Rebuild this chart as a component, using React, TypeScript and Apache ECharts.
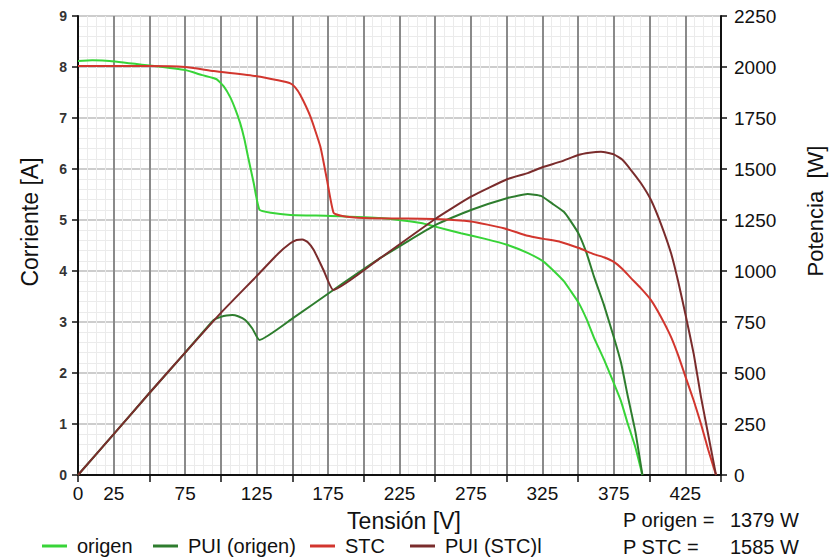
import React, { useEffect, useRef } from "react";
import * as echarts from "echarts";

// ---- data ----
const origenV = [0, 10, 22, 50, 75, 87, 97, 102, 106.5, 110, 113.5, 116.5, 119, 123, 127, 135, 148.6, 176.6, 211.7, 240, 250, 268, 285, 300.7, 315, 326, 333, 340, 345, 350.5, 356, 361, 368, 375, 380, 384.6, 390, 395];
const origenI = [8.12, 8.13, 8.12, 8.03, 7.94, 7.84, 7.76, 7.62, 7.41, 7.18, 6.9, 6.58, 6.24, 5.72, 5.2, 5.14, 5.1, 5.08, 5.04, 4.94, 4.87, 4.74, 4.63, 4.51, 4.35, 4.18, 4.0, 3.8, 3.6, 3.37, 3.05, 2.7, 2.27, 1.8, 1.45, 1.02, 0.55, 0];

const stcV = [0, 50, 75, 95, 125, 140, 148.6, 152, 155.6, 162.6, 169.6, 174.3, 178.9, 185, 200, 225, 250, 275, 298, 314.7, 326, 337.8, 350.5, 361, 368, 375, 381, 387, 394, 401, 408, 415, 420, 425.5, 431, 436, 441, 446.5];
const stcI = [8.02, 8.02, 8.0, 7.92, 7.82, 7.74, 7.68, 7.6, 7.45, 7.03, 6.44, 5.78, 5.14, 5.08, 5.04, 5.03, 5.02, 4.97, 4.84, 4.69, 4.63, 4.57, 4.45, 4.33, 4.27, 4.18, 4.04, 3.86, 3.66, 3.43, 3.1, 2.71, 2.35, 1.9, 1.45, 1.0, 0.5, 0];

const puiOrigenV = [0, 25, 50, 75, 95, 100, 104, 108, 112, 117, 122, 127, 150.7, 178.7, 211.7, 250, 275, 300.7, 314.7, 324, 332, 340, 345, 350.5, 356, 361, 368, 375, 380, 384.6, 390, 395];
const puiOrigenP = [0, 200, 402, 600, 760, 775, 782, 784, 778, 760, 718, 662, 770, 907, 1064, 1225, 1299, 1358, 1377, 1368, 1330, 1290, 1242, 1181, 1086, 975, 835, 675, 551, 392, 215, 0];

const puiStcV = [0, 25, 50, 75, 100, 125, 140, 148.6, 153, 157, 161, 165, 171.8, 178.7, 211.7, 250, 275, 300.7, 314.7, 326, 337.8, 350, 358, 366, 375, 381, 387, 394, 401, 408, 415, 420, 425.5, 431, 436, 441, 446.5];
const puiStcP = [0, 200, 402, 600, 795, 975, 1085, 1136, 1152, 1155, 1140, 1103, 1005, 907, 1064, 1255, 1364, 1451, 1480, 1511, 1536, 1569, 1580, 1585, 1572, 1545, 1495, 1430, 1348, 1230, 1088, 950, 775, 590, 382, 200, 0];

const seriesNames = ["origen", "PUI (origen)", "STC", "PUI (STC)l"];
const seriesColors = ["#38d438", "#2e7d2e", "#d2362e", "#7a2c2c"];
const xLabelValues = [0, 25, 75, 125, 175, 225, 275, 325, 375, 425];
const summaryLabels = ["P origen =", "P STC ="];
const summaryValues = ["1379 W", "1585 W"];

const FONT = "'Liberation Sans', Arial, sans-serif";

function pairs(xs: number[], ys: number[]) {
  return xs.map((x, i) => [x, ys[i]]);
}

export default function App() {
  const ref = useRef<HTMLDivElement>(null);
  useEffect(() => {
    if (!ref.current) return;
    const chart = echarts.init(ref.current, null, { renderer: "svg" });
    const legendLefts = [42, 153, 310, 410];
    const option: any = {
      animation: false,
      backgroundColor: "#ffffff",
      grid: { left: 78, right: 108, top: 16, bottom: 85, containLabel: false },
      legend: seriesNames.map((n, i) => ({
        data: [n],
        left: legendLefts[i],
        top: 536,
        padding: 0,
        icon: "rect",
        itemWidth: 25,
        itemHeight: 3,
        textStyle: { fontSize: 20, fontFamily: FONT, color: "#111", padding: [0, 0, 0, 5] },
      })),
      xAxis: [
        {
          type: "value",
          min: 0,
          max: 450,
          interval: 25,
          position: "bottom",
          axisLine: { show: true, onZero: false, lineStyle: { color: "#111", width: 2 } },
          axisTick: { show: false },
          axisLabel: {
            fontSize: 19,
            fontFamily: FONT,
            color: "#111",
            margin: 9,
            formatter: (v: number) => (xLabelValues.indexOf(v) >= 0 ? String(v) : ""),
          },
          splitLine: { show: true, lineStyle: { color: "#8a8a8a", width: 2 } },
          minorTick: { show: false, splitNumber: 4 },
          minorSplitLine: { show: true, lineStyle: { color: "#ebebeb", width: 1 } },
        },
        {
          type: "value",
          min: 0,
          max: 450,
          interval: 50,
          position: "bottom",
          axisLine: { show: false, onZero: false },
          axisTick: { show: true, length: 7, inside: false, lineStyle: { color: "#111", width: 1.5 } },
          axisLabel: { show: false },
          splitLine: { show: false },
        },
      ],
      yAxis: [
        {
          type: "value",
          min: 0,
          max: 9,
          interval: 1,
          position: "left",
          axisLine: { show: true, onZero: false, lineStyle: { color: "#111", width: 2 } },
          axisTick: { show: true, length: 6, lineStyle: { color: "#111", width: 1.5 } },
          axisLabel: { fontSize: 14, fontWeight: "bold", fontFamily: FONT, color: "#333", margin: 11 },
          splitLine: { show: true, lineStyle: { color: "#bdbdbd", width: 1.5 } },
          minorTick: { show: false, splitNumber: 5 },
          minorSplitLine: { show: true, lineStyle: { color: "#ebebeb", width: 1 } },
        },
        {
          type: "value",
          min: 0,
          max: 2250,
          interval: 250,
          position: "right",
          axisLine: { show: true, onZero: false, lineStyle: { color: "#111", width: 2 } },
          axisTick: { show: true, length: 6, lineStyle: { color: "#111", width: 1.5 } },
          axisLabel: { fontSize: 19, fontFamily: FONT, color: "#111", margin: 13, formatter: (v: number) => String(v) },
          splitLine: { show: false },
        },
      ],
      series: [
        { name: seriesNames[0], data: pairs(origenV, origenI), yAxisIndex: 0 },
        { name: seriesNames[1], data: pairs(puiOrigenV, puiOrigenP), yAxisIndex: 1 },
        { name: seriesNames[2], data: pairs(stcV, stcI), yAxisIndex: 0 },
        { name: seriesNames[3], data: pairs(puiStcV, puiStcP), yAxisIndex: 1 },
      ].map((s, i) => ({
        ...s,
        type: "line",
        xAxisIndex: 0,
        showSymbol: false,
        symbol: "none",
        smooth: 0.15,
        color: seriesColors[i],
        lineStyle: { color: seriesColors[i], width: 2 },
      })),
      graphic: [
        {
          type: "text",
          x: 404,
          y: 521,
          style: { text: "Tensión [V]", fontSize: 23, fontFamily: FONT, fill: "#111", align: "center", verticalAlign: "middle" },
        },
        {
          type: "text",
          x: 30,
          y: 222,
          rotation: Math.PI / 2,
          style: { text: "Corriente [A]", fontSize: 23, fontFamily: FONT, fill: "#111", align: "center", verticalAlign: "middle" },
        },
        {
          type: "text",
          x: 815,
          y: 211,
          rotation: Math.PI / 2,
          style: { text: "Potencia  [W]", fontSize: 22, fontFamily: FONT, fill: "#111", align: "center", verticalAlign: "middle" },
        },
        ...summaryLabels.map((t, i) => ({
          type: "text",
          x: 623,
          y: 520 + i * 27,
          style: { text: t, fontSize: 20, fontFamily: FONT, fill: "#111", align: "left", verticalAlign: "middle" },
        })),
        ...summaryValues.map((t, i) => ({
          type: "text",
          x: 730,
          y: 520 + i * 27,
          style: { text: t, fontSize: 20, fontFamily: FONT, fill: "#111", align: "left", verticalAlign: "middle" },
        })),
      ],
    };
    chart.setOption(option);
    return () => chart.dispose();
  }, []);
  return (
    <div
      ref={ref}
      style={{ position: "fixed", left: 0, top: 0, width: 829, height: 560, background: "#fff" }}
    />
  );
}
